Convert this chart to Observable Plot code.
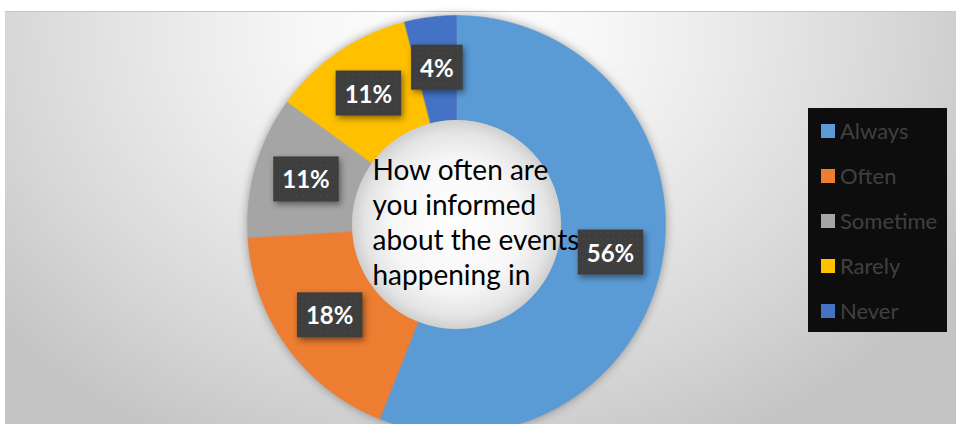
<!DOCTYPE html>
<html>
<head>
<meta charset="utf-8">
<script src="https://cdn.jsdelivr.net/npm/d3@7"></script>
<script src="https://cdn.jsdelivr.net/npm/@observablehq/plot@0.6"></script>
<style>
  html, body { margin: 0; padding: 0; background: #ffffff; }
  #wrap { position: relative; width: 956px; height: 424px; overflow: hidden; font-family: Lato, "Open Sans", sans-serif; }
  #bg {
    position: absolute; left: 5px; top: 11px; width: 951px; height: 413px;
    border-top: 1px solid #c6c6c6;
    background: radial-gradient(ellipse 62% 115% at 47% 3%, #ffffff 0%, #f7f7f7 25%, #e8e8e8 50%, #d8d8d8 74%, #c4c4c4 100%);
  }
  #chart { position: absolute; left: 0; top: 0; }
  #chart svg { overflow: visible; }
  #legend {
    position: absolute; left: 808px; top: 108px; width: 139px; height: 224px;
    background: #0d0d0d; box-sizing: border-box; padding-top: 0px;
  }
  .item { display: flex; align-items: center; height: 45px; padding-left: 13px; }
  .sw { width: 14px; height: 14px; margin-right: 5px; flex: none; }
  .lab { color: #404040; font-size: 22px; font-family: Lato, sans-serif; line-height: 1; }
</style>
</head>
<body>
<div id="wrap">
  <div id="bg"></div>
  <div id="chart"></div>
  <div id="legend"></div>
</div>
<script>
// ---- data ----
const categories = ["Always", "Often", "Sometime", "Rarely", "Never"];
const values = [56, 18, 11, 11, 4];
const pctLabels = ["56%", "18%", "11%", "11%", "4%"];
const palette = ["#5B9BD5", "#ED7D31", "#A5A5A5", "#FFC000", "#4472C4"];
const title = "How often are\nyou informed\nabout the events\nhappening in";

// ---- layout ----
const W = 956, H = 424;
const cx = 456, cy = 224, R = 209;   // pixel center & outer radius
const inner = 0.5;                   // inner radius as fraction of outer

const pie = d3.pie().sort(null).value(d => d.value);
const arcs = pie(categories.map((c, i) => ({cat: c, value: values[i], label: pctLabels[i]})));

// polygon outline of each ring slice (unit coordinates, y up)
const pts = [];
for (const a of arcs) {
  const n = Math.max(4, Math.ceil((a.endAngle - a.startAngle) / 0.01));
  for (let k = 0; k <= n; k++) {
    const t = a.startAngle + (a.endAngle - a.startAngle) * k / n;
    pts.push({cat: a.data.cat, x: Math.sin(t), y: Math.cos(t)});
  }
  for (let k = n; k >= 0; k--) {
    const t = a.startAngle + (a.endAngle - a.startAngle) * k / n;
    pts.push({cat: a.data.cat, x: inner * Math.sin(t), y: inner * Math.cos(t)});
  }
}
const mid = (1 + inner) / 2;
const labelData = arcs.map(a => {
  const t = (a.startAngle + a.endAngle) / 2;
  return {cat: a.data.cat, label: a.data.label, x: mid * Math.sin(t), y: mid * Math.cos(t)};
});

const chart = Plot.plot({
  width: W, height: H,
  margin: 0,
  style: {background: "transparent", overflow: "visible"},
  x: {domain: [-cx / R, (W - cx) / R], range: [0, W], axis: null},
  y: {domain: [-(H - cy) / R, cy / R], range: [H, 0], axis: null},
  color: {domain: categories, range: palette},
  marks: [
    Plot.line(pts, {x: "x", y: "y", z: "cat", fill: "cat", stroke: "cat", strokeWidth: 0.5, curve: "linear-closed"}),
    Plot.dot([{x: 0, y: 0}], {x: "x", y: "y", r: R * inner, fill: "url(#holeGrad)", stroke: null}),
    Plot.text([title], {x: () => 0, y: () => 0, text: d => d, textAnchor: "start", lineAnchor: "middle",
      dx: -84, dy: -3, fontSize: 28, lineHeight: 1.25, fill: "#000", fontFamily: "Lato, sans-serif"}),
    Plot.text(labelData, {x: "x", y: "y", text: "label", fill: "#ffffff", fontSize: 24, fontWeight: "bold",
      fontFamily: "Lato, sans-serif"})
  ]
});

document.getElementById("chart").appendChild(chart);

const svg = d3.select(chart);
const groups = svg.selectAll(":scope > g").nodes();
// defs: gradient for the hole, box pattern
const defs = svg.insert("defs", ":first-child");
const g = defs.append("radialGradient").attr("id", "holeGrad");
g.append("stop").attr("offset", "0%").attr("stop-color", "#ffffff");
g.append("stop").attr("offset", "62%").attr("stop-color", "#f7f7f7");
g.append("stop").attr("offset", "88%").attr("stop-color", "#e4e4e4");
g.append("stop").attr("offset", "100%").attr("stop-color", "#cfcfcf");
const pat = defs.append("pattern").attr("id", "boxPat").attr("width", 6).attr("height", 6).attr("patternUnits", "userSpaceOnUse");
pat.append("rect").attr("width", 6).attr("height", 6).attr("fill", "#3e3e3e");
pat.append("circle").attr("cx", 3).attr("cy", 3).attr("r", 0.8).attr("fill", "#4c4c4c");

if (groups[0]) d3.select(groups[0]).style("filter", "drop-shadow(0px 0px 5px rgba(0,0,0,0.35))");

// boxes behind percentage labels
const pctGroup = groups[groups.length - 1];
if (pctGroup) {
  d3.select(pctGroup).selectAll("text").each(function () {
    const bb = this.getBBox();
    const padX = 9, padY = 8;
    const r = d3.select(this.parentNode).insert("rect", () => this)
      .attr("x", bb.x - padX).attr("y", bb.y - padY)
      .attr("width", bb.width + 2 * padX).attr("height", bb.height + 2 * padY)
      .attr("fill", "url(#boxPat)")
      .style("filter", "drop-shadow(2px 3px 3px rgba(0,0,0,0.45))");
    const tr = this.getAttribute("transform");
    if (tr) r.attr("transform", tr);
  });
}

// legend
const leg = d3.select("#legend");
categories.forEach((c, i) => {
  const it = leg.append("div").attr("class", "item");
  it.append("div").attr("class", "sw").style("background", palette[i]);
  it.append("div").attr("class", "lab").text(c);
});
</script>
</body>
</html>
